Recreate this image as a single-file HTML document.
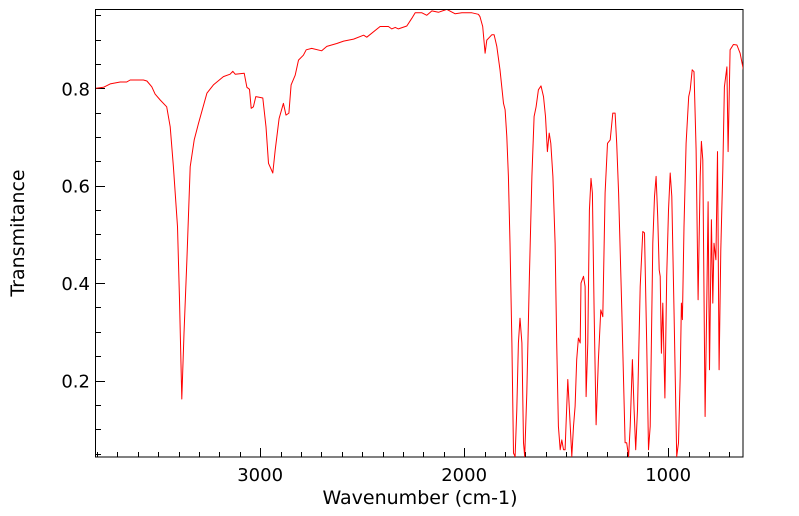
<!DOCTYPE html>
<html><head><meta charset="utf-8"><style>
html,body{margin:0;padding:0;background:#fff;}
svg{display:block;font-family:"DejaVu Sans","Liberation Sans",sans-serif;}
</style></head><body>
<svg id="chart" width="799" height="516" viewBox="0 0 799 516">
<defs><clipPath id="clip"><rect x="96" y="10" width="647" height="447"/></clipPath></defs>
<rect x="95.5" y="9.5" width="647.5" height="447.5" fill="none" stroke="#000" stroke-width="1"/>
<g id="ticks"></g>
<g id="series" clip-path="url(#clip)"></g>
<text x="420" y="504" text-anchor="middle" font-size="19">Wavenumber (cm-1)</text>
<text transform="translate(24,233) rotate(-90)" text-anchor="middle" font-size="19">Transmitance</text>
</svg>
<script>
const wavenumbers = [3809,3768,3735,3686,3654,3637,3572,3555,3531,3515,3490,3458,3441,3425,3405,3395,3384,3373,3359,3343,3323,3302,3261,3229,3180,3147,3134,3122,3078,3065,3052,3044,3033,3021,3008,2987,2971,2959,2938,2926,2907,2886,2873,2859,2848,2828,2812,2788,2774,2747,2698,2673,2624,2591,2542,2493,2477,2412,2371,2355,2338,2322,2281,2256,2240,2207,2183,2158,2126,2085,2044,2011,1962,1930,
1922,1909,1897,1889,1864,1853,1840,1824,1807,1799,1791,1783,1775,1766,1758,1750,1742,1734,1726,1717,1709,1703,1693,1680,1668,1657,1647,1636,1623,1611,1601,1592,1583,1575,1565,1554,1546,1538,1529,1521,1513,1505,1500,1492,1484,1472,1464,1456,1448,1440,1431,1427,1415,1407,1402,1394,1386,1378,1371,1363,1353,1342,1330,1320,1309,1297,1284,1271,1260,1252,1243,1227,1211,1203,1194,1186,1175,1167,1159,1150,1137,1124,1116,1105,1096,1088,1075,1067,1059,1051,1044,1039,1033,1026,1016,1007,998,990,982,971,958,949,941,935,930,922,912,899,892,882,873,863,853,843,837,830,819,810,804,797,788,781,775,766,758,750,742,732,724,712,706,696,680,663,647,631];
const transmittance = [0.800,0.802,0.809,0.813,0.813,0.817,0.817,0.815,0.803,0.788,0.776,0.762,0.721,0.639,0.516,0.366,0.162,0.297,0.448,0.639,0.694,0.728,0.790,0.807,0.824,0.829,0.835,0.829,0.831,0.802,0.798,0.759,0.762,0.783,0.782,0.780,0.721,0.646,0.626,0.673,0.738,0.769,0.745,0.749,0.807,0.827,0.858,0.868,0.879,0.882,0.877,0.886,0.892,0.897,0.901,0.909,0.905,0.927,0.927,0.922,0.925,0.922,0.928,0.944,0.955,0.955,0.950,0.959,0.956,0.962,0.953,0.955,0.955,0.952,
0.947,0.927,0.872,0.899,0.910,0.910,0.886,0.838,0.769,0.756,0.701,0.619,0.482,0.277,0.051,0.044,0.140,0.277,0.328,0.277,0.072,0.044,0.174,0.414,0.619,0.742,0.762,0.797,0.805,0.783,0.742,0.670,0.708,0.687,0.619,0.482,0.277,0.106,0.058,0.078,0.058,0.058,0.113,0.202,0.140,0.044,0.106,0.147,0.243,0.287,0.277,0.400,0.414,0.393,0.167,0.277,0.550,0.615,0.585,0.345,0.109,0.243,0.345,0.331,0.585,0.687,0.694,0.749,0.749,0.687,0.585,0.345,0.072,0.072,0.044,0.106,0.243,0.140,0.058,0.140,0.393,0.506,0.503,0.277,0.058,0.106,0.482,0.578,0.619,0.537,0.427,0.414,0.256,0.359,0.164,0.414,0.550,0.626,0.578,0.345,0.044,0.072,0.208,0.359,0.325,0.516,0.687,0.783,0.797,0.838,0.834,0.674,0.366,0.619,0.691,0.653,0.126,0.379,0.567,0.222,0.530,0.359,0.482,0.448,0.670,0.222,0.468,0.632,0.803,0.844,0.670,0.879,0.890,0.889,0.872,0.838];
const xTickLabels = [3000,2000,1000];
const yTickLabels = [0.2,0.4,0.6,0.8];

const X0=95.5, XPX=0.204, WN0=3807;
const Y0=88.3, YPX=487, T0=0.8;
function xs(w){return X0+(WN0-w)*XPX;}
function ys(t){return Y0+(T0-t)*YPX;}
const NS='http://www.w3.org/2000/svg';
const ticks=document.getElementById('ticks');
const svg=document.getElementById('chart');
function ln(x1,y1,x2,y2,name){
  const l=document.createElementNS(NS,'line');
  l.setAttribute('x1',x1);l.setAttribute('y1',y1);l.setAttribute('x2',x2);l.setAttribute('y2',y2);
  l.setAttribute('stroke','#000');l.setAttribute('stroke-width','1');
  
  
  ticks.appendChild(l);
}
for(let w=3800;w>=640;w-=100){
  const x=Math.round(xs(w))+0.5;
  const major=(w%1000===0);
  ln(x,457,x,major?448:452,'x-tick');
}
for(let k=1;k<=19;k++){
  const t=k*0.05;
  const y=ys(t);
  if(y<10||y>457) continue;
  const major=(k%4===0);
  ln(96,Math.round(y)+0.5,major?105:101,Math.round(y)+0.5,'y-tick');
}
xTickLabels.forEach(w=>{
  const t=document.createElementNS(NS,'text');
  t.setAttribute('x',xs(w));t.setAttribute('y',481);t.setAttribute('text-anchor','middle');t.setAttribute('font-size','18');
  t.textContent=String(w);
  
  
  svg.appendChild(t);
});
yTickLabels.forEach(v=>{
  const t=document.createElementNS(NS,'text');
  t.setAttribute('x',90);t.setAttribute('y',ys(v)+7);t.setAttribute('text-anchor','end');t.setAttribute('font-size','18');
  t.textContent=v.toFixed(1);
  
  
  svg.appendChild(t);
});
const p=document.createElementNS(NS,'path');
p.setAttribute('d',wavenumbers.map((w,i)=>(i?'L':'M')+xs(w).toFixed(1)+','+ys(transmittance[i]).toFixed(1)).join(''));
p.setAttribute('fill','none');p.setAttribute('stroke','#ff0000');p.setAttribute('stroke-width','1');p.setAttribute('stroke-linejoin','round');


document.getElementById('series').appendChild(p);
</script>
</body></html>
